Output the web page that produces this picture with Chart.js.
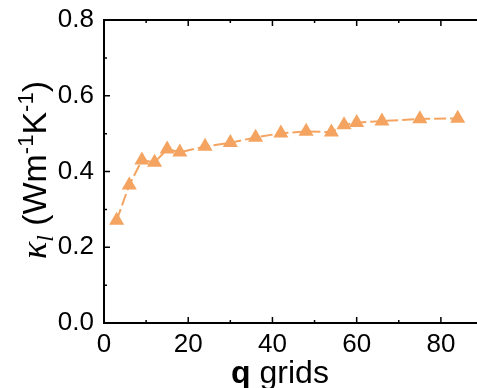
<!DOCTYPE html>
<html><head><meta charset="utf-8">
<script src="https://cdn.jsdelivr.net/npm/chart.js@4/dist/chart.umd.min.js"></script>
<style>
html,body{margin:0;padding:0;background:#fff;overflow:hidden;width:477px;height:388px}
#wrap{position:absolute;left:0;top:0;width:490px;height:388px}
</style></head>
<body><div id="wrap"><canvas id="c" width="490" height="388"></canvas></div>
<script>
const qGrids = [3, 6, 9, 12, 15, 18, 24, 30, 36, 42, 48, 54, 57, 60, 66, 75, 84];
const kappa  = [0.271, 0.364, 0.430, 0.424, 0.459, 0.451, 0.466, 0.476, 0.490, 0.501, 0.506, 0.504, 0.523, 0.529, 0.533, 0.539, 0.540];
const xTicks = [0, 20, 40, 60, 80];
const xMinor = [10, 30, 50, 70, 90];
const yTicks = [0.0, 0.2, 0.4, 0.6, 0.8];
const yMinor = [0.1, 0.3, 0.5, 0.7];
const xTitleBold = 'q';
const xTitleRest = ' grids';

const ORANGE = '#F4A460';
const SANS = '"Liberation Sans", Arial, sans-serif';
const SERIF = '"Liberation Serif", "Times New Roman", serif';

const frame = {
  id: 'frame',
  afterDraw(chart) {
    const ctx = chart.ctx, a = chart.chartArea;
    const xs = chart.scales.x, ys = chart.scales.y;
    ctx.save();
    ctx.setLineDash([]);
    ctx.strokeStyle = '#000';
    ctx.lineWidth = 2;
    ctx.beginPath();
    ctx.moveTo(a.left - 1, a.top); ctx.lineTo(a.right, a.top); ctx.lineTo(a.right, a.bottom);
    ctx.stroke();
    ctx.lineWidth = 1.5;
    const tick = (v, len, axis) => {
      ctx.beginPath();
      if (axis === 'x') {
        const p = xs.getPixelForValue(v);
        ctx.moveTo(p, a.bottom); ctx.lineTo(p, a.bottom - len);
        ctx.moveTo(p, a.top); ctx.lineTo(p, a.top + len);
      } else {
        const p = ys.getPixelForValue(v);
        ctx.moveTo(a.left, p); ctx.lineTo(a.left + len, p);
        ctx.moveTo(a.right, p); ctx.lineTo(a.right - len, p);
      }
      ctx.stroke();
    };
    xTicks.forEach(v => tick(v, 6, 'x'));
    xMinor.forEach(v => tick(v, 3, 'x'));
    yTicks.forEach(v => tick(v, 6, 'y'));
    yMinor.forEach(v => tick(v, 3, 'y'));

    // x title
    ctx.fillStyle = '#000';
    ctx.textBaseline = 'alphabetic';
    ctx.textAlign = 'left';
    const fb = 'bold 32px ' + SANS, fn = '32px ' + SANS;
    ctx.font = fb; const wb = ctx.measureText(xTitleBold).width;
    ctx.font = fn; const wr = ctx.measureText(xTitleRest).width;
    let x0 = 280 - (wb + wr) / 2;
    ctx.font = fb; ctx.fillText(xTitleBold, x0, 383);
    ctx.font = fn; ctx.fillText(xTitleRest, x0 + wb, 383);

    // y title
    const runs = [
      {t: 'κ', f: 'italic 36px ' + SERIF, dy: 0},
      {t: 'l', f: 'italic 23px ' + SERIF, dy: 7},
      {t: ' (Wm', f: '34px ' + SANS, dy: 0},
      {t: '-1', f: '22px ' + SANS, dy: -13},
      {t: 'K', f: '34px ' + SANS, dy: 0},
      {t: '-1', f: '22px ' + SANS, dy: -13},
      {t: ')', f: '34px ' + SANS, dy: 0}
    ];
    let total = 0;
    runs.forEach(r => { ctx.font = r.f; r.w = ctx.measureText(r.t).width; total += r.w; });
    ctx.translate(46, 170);
    ctx.rotate(-Math.PI / 2);
    let cx = -total / 2;
    runs.forEach(r => { ctx.font = r.f; ctx.fillText(r.t, cx, r.dy); cx += r.w; });
    ctx.restore();
  }
};

const zeroPad = s => { s.paddingLeft = 0; s.paddingRight = 0; s.paddingTop = 0; s.paddingBottom = 0; };

new Chart(document.getElementById('c'), {
  type: 'line',
  data: {
    datasets: [{
      data: qGrids.map((q, i) => ({x: q, y: kappa[i]})),
      fill: false,
      borderColor: ORANGE,
      borderWidth: 2,
      borderDash: [12, 4],
      pointStyle: 'triangle',
      pointRadius: 8.7,
      pointBorderWidth: 0,
      pointBackgroundColor: ORANGE,
      tension: 0
    }]
  },
  options: {
    responsive: false,
    devicePixelRatio: 1,
    animation: false,
    events: [],
    layout: {autoPadding: false, padding: {top: 20, right: 7, left: 0, bottom: 0}},
    plugins: {legend: {display: false}, tooltip: {enabled: false}},
    scales: {
      x: {
        type: 'linear', min: 0, max: 90,
        afterBuildTicks: s => { s.ticks = xTicks.map(v => ({value: v})); },
        afterFit: s => { s.height = 65; zeroPad(s); },
        grid: {display: false, drawTicks: false},
        border: {display: true, color: '#000', width: 2},
        ticks: {color: '#000', font: {family: SANS, size: 26}, padding: 6, maxRotation: 0, autoSkip: false}
      },
      y: {
        type: 'linear', min: 0, max: 0.8,
        afterBuildTicks: s => { s.ticks = yTicks.map(v => ({value: v})); },
        afterFit: s => { s.width = 104; zeroPad(s); },
        grid: {display: false, drawTicks: false},
        border: {display: true, color: '#000', width: 2},
        ticks: {color: '#000', font: {family: SANS, size: 26}, padding: 10,
                callback: v => Number(v).toFixed(1)}
      }
    }
  },
  plugins: [frame]
});
</script>
</body></html>
